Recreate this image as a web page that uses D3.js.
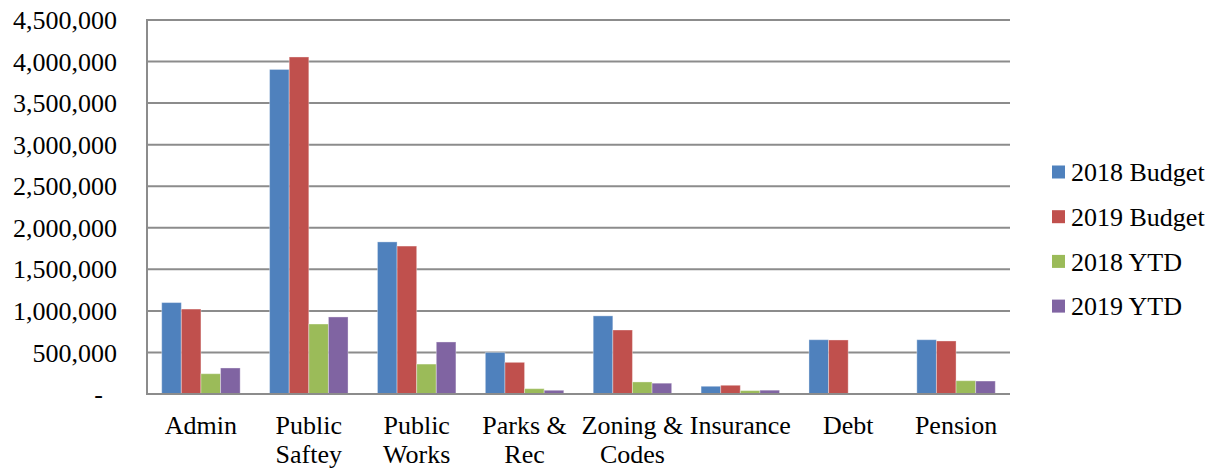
<!DOCTYPE html>
<html>
<head>
<meta charset="utf-8">
<script src="https://cdn.jsdelivr.net/npm/d3@7"></script>
<style>
  html, body { margin: 0; padding: 0; background: #fff; }
  svg { display: block; }
</style>
</head>
<body>
<svg id="chart" width="1216" height="470"></svg>
<script>
const categories = ["Admin", "Public Saftey", "Public Works", "Parks & Rec", "Zoning & Codes", "Insurance", "Debt", "Pension"];
const seriesNames = ["2018 Budget", "2019 Budget", "2018 YTD", "2019 YTD"];
const budget2018 = [1100000, 3905000, 1830000, 500000, 940000, 93000, 653000, 653000];
const budget2019 = [1022000, 4055000, 1780000, 381000, 770000, 105000, 650000, 638000];
const ytd2018 = [244000, 842000, 360000, 64000, 145000, 41000, 0, 160000];
const ytd2019 = [313000, 927000, 626000, 45000, 130000, 46000, 0, 156000];
const yTicks = [0, 500000, 1000000, 1500000, 2000000, 2500000, 3000000, 3500000, 4000000, 4500000];
const colors = ["#4F81BD", "#C0504D", "#9BBB59", "#8064A2"];

(function () {
const seriesValues = [budget2018, budget2019, ytd2018, ytd2019];
const FONT = "Liberation Serif";

const svg = d3.select("#chart");
const pLeft = 147, pRight = 1010, pTop = 20, pBottom = 394;
const fontSize = 26;

const y = d3.scaleLinear().domain([0, 4500000]).range([pBottom, pTop]);
const x0 = d3.scaleBand().domain(categories).range([pLeft, pRight]).paddingInner(0).paddingOuter(0);
const x1 = d3.scaleBand().domain(seriesNames).range([0, x0.bandwidth()]).paddingInner(0).paddingOuter(0.75);

// gridlines
svg.append("g").selectAll("line").data(yTicks.filter(d => d > 0)).join("line")
  .attr("x1", pLeft).attr("x2", pRight)
  .attr("y1", d => y(d)).attr("y2", d => y(d))
  .attr("stroke", "#8c8c8c").attr("stroke-width", 2);

// y axis labels
const fmt = d3.format(",");
svg.append("g").selectAll("text").data(yTicks).join("text")
  .attr("x", d => d === 0 ? 103 : 117)
  .attr("y", d => y(d))
  .attr("dy", "0.35em")
  .attr("text-anchor", "end")
  .attr("font-family", FONT)
  .attr("font-size", fontSize)
  .attr("fill", "#000")
  .text(d => d === 0 ? "-" : fmt(d));

// bars
const rows = categories.map((c, i) => seriesNames.map((s, j) => ({ cat: c, series: s, value: seriesValues[j][i], color: colors[j] })));
const groups = svg.append("g").selectAll("g").data(rows).join("g")
  .attr("transform", (d, i) => `translate(${x0(categories[i])},0)`);
groups.selectAll("rect").data(d => d.filter(e => e.value > 0)).join("rect")
  .attr("x", d => x1(d.series))
  .attr("width", x1.bandwidth())
  .attr("y", d => y(d.value))
  .attr("height", d => pBottom - y(d.value))
  .attr("fill", d => d.color)
  .attr("stroke", "rgba(255,255,255,0.35)")
  .attr("stroke-width", 1);

// axes lines
svg.append("line").attr("x1", pLeft).attr("x2", pLeft).attr("y1", pTop - 1).attr("y2", pBottom + 1)
  .attr("stroke", "#8c8c8c").attr("stroke-width", 2);
svg.append("line").attr("x1", pLeft - 1).attr("x2", pRight).attr("y1", pBottom).attr("y2", pBottom)
  .attr("stroke", "#8c8c8c").attr("stroke-width", 2);

// x labels with word wrap
const xl = svg.append("g");
categories.forEach(c => {
  const cx = x0(c) + x0.bandwidth() / 2;
  const t = xl.append("text")
    .attr("x", cx)
    .attr("y", 434)
    .attr("text-anchor", "middle")
    .attr("font-family", FONT)
    .attr("font-size", fontSize)
    .attr("fill", "#000");
  const words = c.split(" ");
  let line = [];
  let ts = t.append("tspan").attr("x", cx).attr("dy", 0);
  words.forEach(w => {
    line.push(w);
    ts.text(line.join(" "));
    if (ts.node().getComputedTextLength() > x0.bandwidth() && line.length > 1) {
      line.pop();
      ts.text(line.join(" "));
      line = [w];
      ts = t.append("tspan").attr("x", cx).attr("dy", 29).text(w);
    }
  });
});

// legend
const lg = svg.append("g");
seriesNames.forEach((s, i) => {
  const cy = 172 + i * 44.7;
  lg.append("rect").attr("x", 1052).attr("y", cy - 6.5).attr("width", 13).attr("height", 13).attr("fill", colors[i]);
  lg.append("text").attr("x", 1071).attr("y", cy).attr("dy", "0.35em")
    .attr("font-family", FONT)
    .attr("font-size", fontSize).attr("fill", "#000").text(s);
});
})();
</script>
</body>
</html>
